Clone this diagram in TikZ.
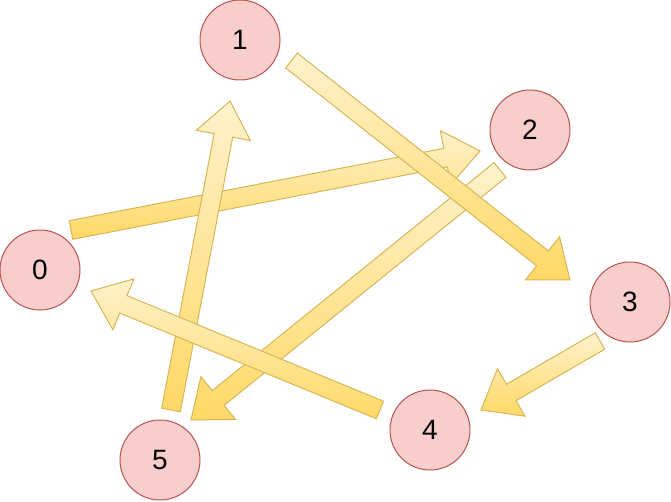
\documentclass[tikz,border=0pt]{standalone}
\usepackage{fontspec}
\setmainfont{Liberation Sans}
\usetikzlibrary{calc, positioning}

\definecolor{nodefill}{HTML}{F8CECC}
\definecolor{nodeline}{HTML}{B85450}
\definecolor{flowtop}{HTML}{FFF2CC}
\definecolor{flowbot}{HTML}{FFD966}
\definecolor{flowline}{HTML}{D6B656}

% block arrow from tail #1 to tip #2
\newcommand{\shaftw}{7.1pt}
\newcommand{\headw}{20.6pt}
\newcommand{\headl}{26.25pt}
\newcommand{\blockarrow}[2]{%
  \coordinate (hb) at ($(#2)!\headl!(#1)$);
  \shadedraw[flow] ($(#1)!\shaftw!90:(#2)$) -- ($(hb)!\shaftw!90:(#2)$)
    -- ($(hb)!\headw!90:(#2)$) -- (#2) -- ($(hb)!\headw!-90:(#2)$)
    -- ($(hb)!\shaftw!-90:(#2)$) -- ($(#1)!\shaftw!-90:(#2)$) -- cycle;
}

\begin{document}
\begin{tikzpicture}[
  x=0.75pt, y=-0.75pt,
  vertex/.style={circle, draw=nodeline, fill=nodefill, line width=0.75pt,
                 minimum size=60pt, inner sep=0pt, font=\fontsize{21}{21}\selectfont},
  flow/.style={top color=flowtop, bottom color=flowbot, draw=flowline,
               line width=0.75pt, line join=miter}
]
  \useasboundingbox (0,0) rectangle (671,502);

  \node[vertex] (n0) at (40,270) {0};
  \node[vertex] (n1) at (240,40) {1};
  \node[vertex] (n2) at (530,130) {2};
  \node[vertex] (n3) at (630,302) {3};
  \node[vertex] (n4) at (430,430) {4};
  \node[vertex] (n5) at (160,460) {5};

  % arrow ends, kept clear of the circles
  \coordinate (from02) at (71,230);    \coordinate (to02) at (480,151);
  \coordinate (from25) at (500,170);   \coordinate (to25) at (191,420);
  \coordinate (from51) at (171,410);   \coordinate (to51) at (230,101);
  \coordinate (from40) at (380,410);   \coordinate (to40) at (91,291);
  \coordinate (from13) at (291.5,60.5); \coordinate (to13) at (570,280);
  \coordinate (from34) at (600,341);   \coordinate (to34) at (481,410);

  \blockarrow{from02}{to02}
  \blockarrow{from25}{to25}
  \blockarrow{from51}{to51}
  \blockarrow{from40}{to40}
  \blockarrow{from13}{to13}
  \blockarrow{from34}{to34}
\end{tikzpicture}
\end{document}
